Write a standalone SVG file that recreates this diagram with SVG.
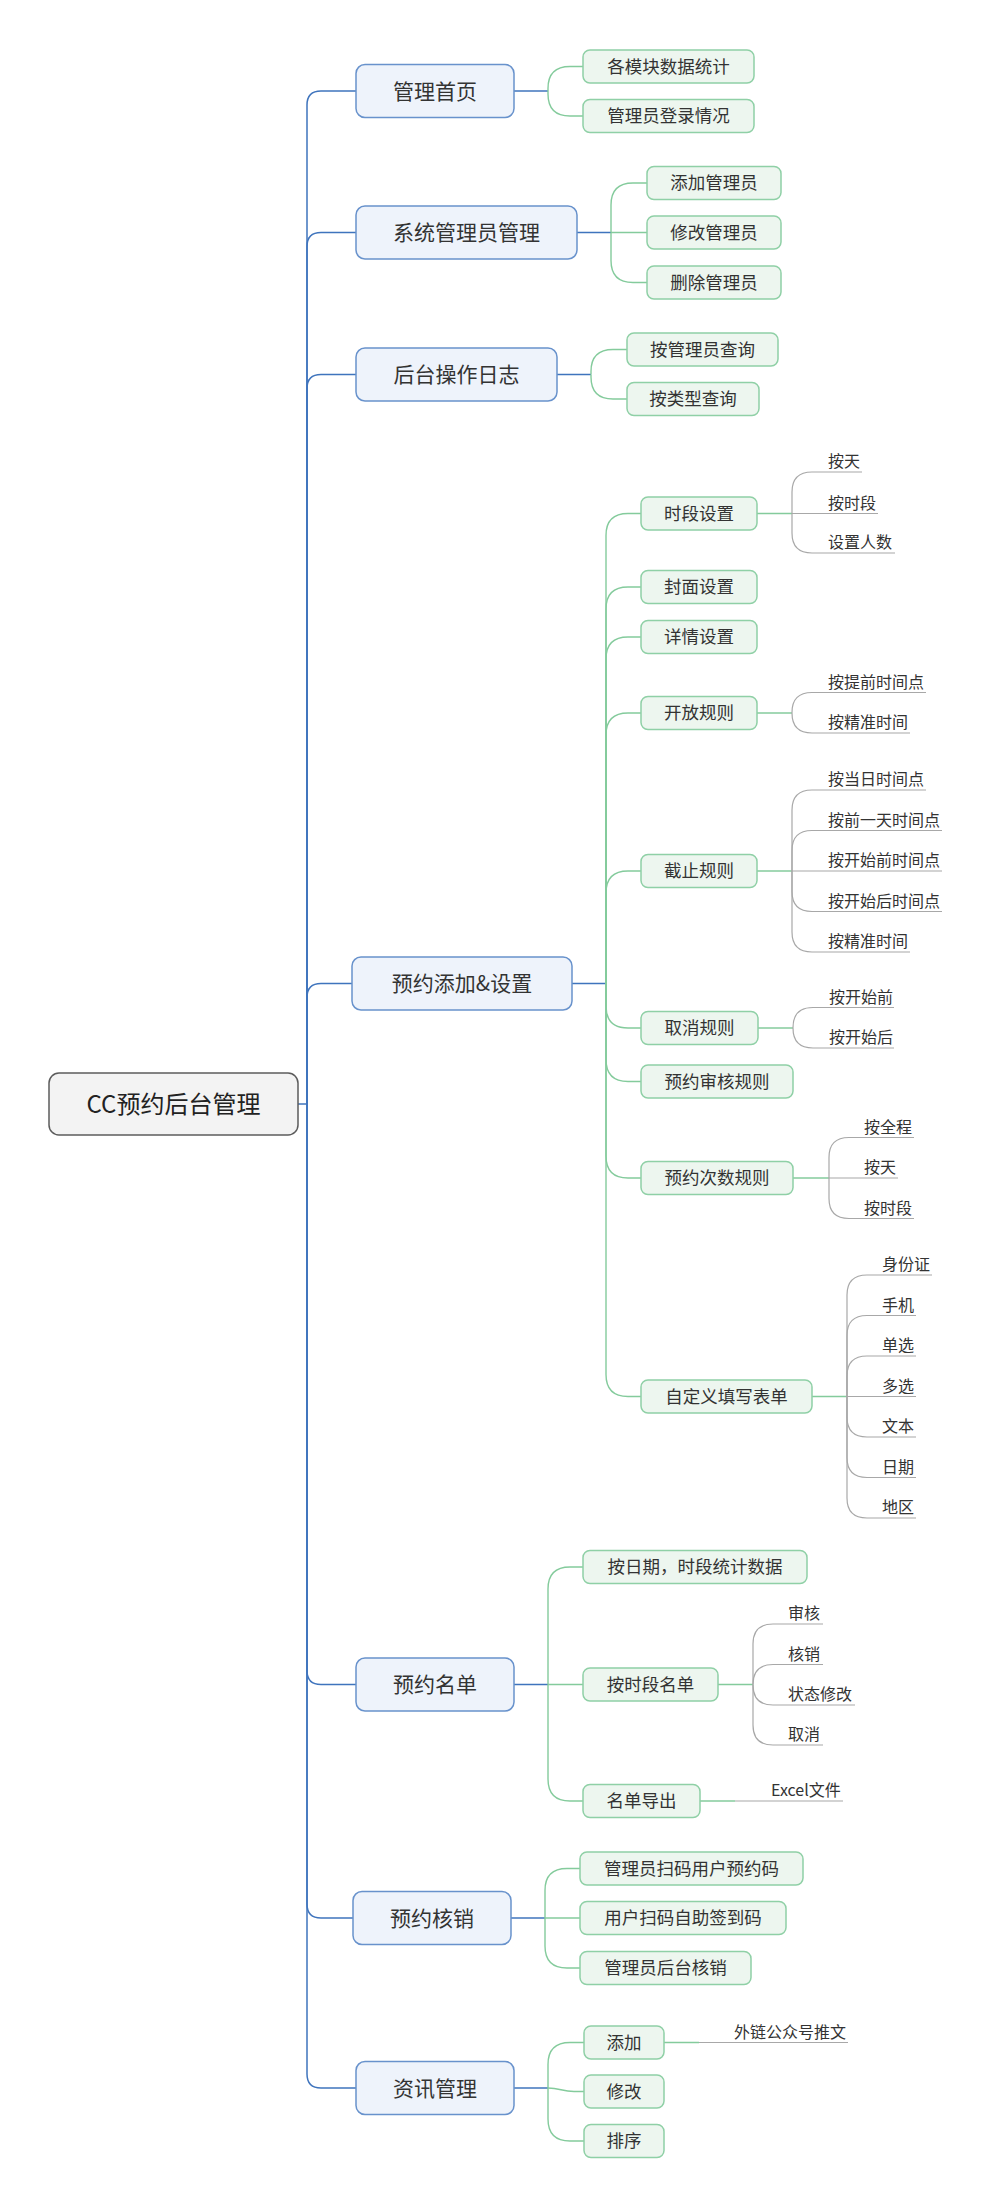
<svg xmlns="http://www.w3.org/2000/svg" width="993" height="2207" viewBox="0 0 993 2207">
<style>
text{font-family:"Noto Sans CJK SC","Noto Sans",sans-serif;fill:#333}
.root rect{fill:#f3f3f3;stroke:#5c5c5c;stroke-width:1.5}
.root text{font-size:24px;fill:#222;text-anchor:middle}
.l1 rect{fill:#eef3fb;stroke:#6892cc;stroke-width:1.5}
.l1 text{font-size:21px;text-anchor:middle}
.l2 rect{fill:#edf6ef;stroke:#8fd0a6;stroke-width:1.5}
.l2 text{font-size:17.5px;text-anchor:middle}
.lf text{font-size:16px}
.cb{fill:none;stroke:#3f74bd;stroke-width:1.5}
.cg{fill:none;stroke:#84cb9c;stroke-width:1.4}
.cy{fill:none;stroke:#a8a8a8;stroke-width:1.2}
</style>
<rect width="993" height="2207" fill="#fff"/>
<g id="connectors">
<g class="cb">
<path d="M298,1104 H307"/>
<path d="M307,1104 V105 Q307,91 321,91 H356"/>
<path d="M307,1104 V246.5 Q307,232.5 321,232.5 H356"/>
<path d="M307,1104 V388.5 Q307,374.5 321,374.5 H356"/>
<path d="M307,1104 V997.5 Q307,983.5 321,983.5 H352"/>
<path d="M307,1104 V1670.5 Q307,1684.5 321,1684.5 H356"/>
<path d="M307,1104 V1904 Q307,1918 321,1918 H353"/>
<path d="M307,1104 V2074 Q307,2088 321,2088 H356"/>
<path d="M514,91 H548"/>
<path d="M577,232.5 H611"/>
<path d="M557,374.5 H591"/>
<path d="M572,983.5 H606"/>
<path d="M514,1684.5 H548"/>
<path d="M511,1918 H545"/>
<path d="M514,2088 H548"/>
</g>
<g class="cg">
<path d="M548,91 V88.5 Q548,66.5 570,66.5 H583"/>
<path d="M548,91 V94 Q548,116 570,116 H583"/>
<path d="M611,232.5 V205 Q611,183 633,183 H647"/>
<path d="M611,232.5 H647"/>
<path d="M611,232.5 V260.5 Q611,282.5 633,282.5 H647"/>
<path d="M591,374.5 V371.5 Q591,349.5 613,349.5 H627"/>
<path d="M591,374.5 V377 Q591,399 613,399 H627"/>
<path d="M606,983.5 V535.5 Q606,513.5 628,513.5 H641"/>
<path d="M606,983.5 V609 Q606,587 628,587 H641"/>
<path d="M606,983.5 V659 Q606,637 628,637 H641"/>
<path d="M606,983.5 V735 Q606,713 628,713 H641"/>
<path d="M606,983.5 V893 Q606,871 628,871 H641"/>
<path d="M606,983.5 V1006 Q606,1028 628,1028 H641"/>
<path d="M606,983.5 V1059.5 Q606,1081.5 628,1081.5 H641"/>
<path d="M606,983.5 V1156 Q606,1178 628,1178 H641"/>
<path d="M606,983.5 V1374.5 Q606,1396.5 628,1396.5 H641"/>
<path d="M548,1684.5 V1589 Q548,1567 570,1567 H583"/>
<path d="M548,1684.5 H583"/>
<path d="M548,1684.5 V1779 Q548,1801 570,1801 H583"/>
<path d="M545,1918 V1890.5 Q545,1868.5 567,1868.5 H580"/>
<path d="M545,1918 H580"/>
<path d="M545,1918 V1946 Q545,1968 567,1968 H580"/>
<path d="M548,2088 V2064.5 Q548,2042.5 570,2042.5 H584"/>
<path d="M548,2088 C560,2088 562,2091.5 574,2091.5 H584"/>
<path d="M548,2088 V2119 Q548,2141 570,2141 H584"/>
<path d="M757,513.5 H792"/>
<path d="M757,713 H792"/>
<path d="M757,871 H792"/>
<path d="M758,1028 H793"/>
<path d="M793,1178 H829"/>
<path d="M812,1396.5 H847"/>
<path d="M718,1684.5 H753"/>
<path d="M700,1801 H735"/>
<path d="M664,2042.5 H699"/>
</g>
<g class="cy">
<path d="M792,513.5 V492 Q792,472 812,472 H862"/>
<path d="M792,513.5 H878"/>
<path d="M792,513.5 V533 Q792,553 812,553 H895"/>
<path d="M792,713 V712.5 Q792,692.5 812,692.5 H926"/>
<path d="M792,713 V713 Q792,733 812,733 H910"/>
<path d="M792,871 V810 Q792,790 812,790 H926"/>
<path d="M792,871 V850.5 Q792,830.5 812,830.5 H942"/>
<path d="M792,871 H942"/>
<path d="M792,871 V891.5 Q792,911.5 812,911.5 H942"/>
<path d="M792,871 V932 Q792,952 812,952 H910"/>
<path d="M793,1028 V1027.5 Q793,1007.5 813,1007.5 H894"/>
<path d="M793,1028 V1028 Q793,1048 813,1048 H894"/>
<path d="M829,1178 V1157.5 Q829,1137.5 849,1137.5 H914"/>
<path d="M829,1178 H898"/>
<path d="M829,1178 V1198.5 Q829,1218.5 849,1218.5 H914"/>
<path d="M847,1396.5 V1295 Q847,1275 867,1275 H932"/>
<path d="M847,1396.5 V1335.5 Q847,1315.5 867,1315.5 H916"/>
<path d="M847,1396.5 V1376 Q847,1356 867,1356 H916"/>
<path d="M847,1396.5 H916"/>
<path d="M847,1396.5 V1417 Q847,1437 867,1437 H916"/>
<path d="M847,1396.5 V1457.5 Q847,1477.5 867,1477.5 H916"/>
<path d="M847,1396.5 V1498 Q847,1518 867,1518 H916"/>
<path d="M753,1684.5 V1644 Q753,1624 773,1624 H823"/>
<path d="M753,1684.5 Q753,1664.5 773,1664.5 H823"/>
<path d="M753,1684.5 V1685 Q753,1705 773,1705 H855"/>
<path d="M753,1684.5 V1725 Q753,1745 773,1745 H823"/>
<path d="M735,1801 H843"/>
<path d="M699,2042.5 H848"/>
</g>
</g>
<g id="root" class="root"><rect x="49" y="1073" width="249" height="62" rx="10"/><text x="173.5" y="1112.5">CC预约后台管理</text></g>
<g id="n-home" class="l1"><rect x="356" y="64.5" width="158" height="53" rx="9"/><text x="435" y="98.5">管理首页</text></g>
<g id="n-sysadmin" class="l1"><rect x="356" y="206" width="221" height="53" rx="9"/><text x="466.5" y="240">系统管理员管理</text></g>
<g id="n-log" class="l1"><rect x="356" y="348" width="201" height="53" rx="9"/><text x="456.5" y="382">后台操作日志</text></g>
<g id="n-setup" class="l1"><rect x="352" y="957" width="220" height="53" rx="9"/><text x="462" y="991">预约添加&amp;设置</text></g>
<g id="n-list" class="l1"><rect x="356" y="1658" width="158" height="53" rx="9"/><text x="435" y="1692">预约名单</text></g>
<g id="n-verify" class="l1"><rect x="353" y="1891.5" width="158" height="53" rx="9"/><text x="432" y="1925.5">预约核销</text></g>
<g id="n-news" class="l1"><rect x="356" y="2061.5" width="158" height="53" rx="9"/><text x="435" y="2095.5">资讯管理</text></g>
<g id="n-stats" class="l2"><rect x="583" y="50" width="171" height="33" rx="7"/><text x="668.5" y="72.6">各模块数据统计</text></g>
<g id="n-login" class="l2"><rect x="583" y="99.5" width="171" height="33" rx="7"/><text x="668.5" y="122.1">管理员登录情况</text></g>
<g id="n-addadmin" class="l2"><rect x="647" y="166.5" width="134" height="33" rx="7"/><text x="714" y="189.1">添加管理员</text></g>
<g id="n-editadmin" class="l2"><rect x="647" y="216" width="134" height="33" rx="7"/><text x="714" y="238.6">修改管理员</text></g>
<g id="n-deladmin" class="l2"><rect x="647" y="266" width="134" height="33" rx="7"/><text x="714" y="288.6">删除管理员</text></g>
<g id="n-byadmin" class="l2"><rect x="627" y="333" width="151" height="33" rx="7"/><text x="702.5" y="355.6">按管理员查询</text></g>
<g id="n-bytype" class="l2"><rect x="627" y="382.5" width="132" height="33" rx="7"/><text x="693" y="405.1">按类型查询</text></g>
<g id="n-slot" class="l2"><rect x="641" y="497" width="116" height="33" rx="7"/><text x="699" y="519.6">时段设置</text></g>
<g id="n-cover" class="l2"><rect x="641" y="570.5" width="116" height="33" rx="7"/><text x="699" y="593.1">封面设置</text></g>
<g id="n-detail" class="l2"><rect x="641" y="620.5" width="116" height="33" rx="7"/><text x="699" y="643.1">详情设置</text></g>
<g id="n-open" class="l2"><rect x="641" y="696.5" width="116" height="33" rx="7"/><text x="699" y="719.1">开放规则</text></g>
<g id="n-close" class="l2"><rect x="641" y="854.5" width="116" height="33" rx="7"/><text x="699" y="877.1">截止规则</text></g>
<g id="n-cancel" class="l2"><rect x="641" y="1011.5" width="117" height="33" rx="7"/><text x="699.5" y="1034.1">取消规则</text></g>
<g id="n-audit" class="l2"><rect x="641" y="1065" width="152" height="33" rx="7"/><text x="717" y="1087.6">预约审核规则</text></g>
<g id="n-count" class="l2"><rect x="641" y="1161.5" width="152" height="33" rx="7"/><text x="717" y="1184.1">预约次数规则</text></g>
<g id="n-form" class="l2"><rect x="641" y="1380" width="171" height="33" rx="7"/><text x="726.5" y="1402.6">自定义填写表单</text></g>
<g id="n-bydate" class="l2"><rect x="583" y="1550.5" width="224" height="33" rx="7"/><text x="695" y="1573.1">按日期，时段统计数据</text></g>
<g id="n-byslot" class="l2"><rect x="583" y="1668" width="135" height="33" rx="7"/><text x="650.5" y="1690.6">按时段名单</text></g>
<g id="n-export" class="l2"><rect x="583" y="1784.5" width="117" height="33" rx="7"/><text x="641.5" y="1807.1">名单导出</text></g>
<g id="n-scan1" class="l2"><rect x="580" y="1852" width="223" height="33" rx="7"/><text x="691.5" y="1874.6">管理员扫码用户预约码</text></g>
<g id="n-scan2" class="l2"><rect x="580" y="1901.5" width="206" height="33" rx="7"/><text x="683" y="1924.1">用户扫码自助签到码</text></g>
<g id="n-backend" class="l2"><rect x="580" y="1951.5" width="171" height="33" rx="7"/><text x="665.5" y="1974.1">管理员后台核销</text></g>
<g id="n-newsadd" class="l2"><rect x="584" y="2026" width="80" height="33" rx="7"/><text x="624" y="2048.6">添加</text></g>
<g id="n-newsedit" class="l2"><rect x="584" y="2075" width="80" height="33" rx="7"/><text x="624" y="2097.6">修改</text></g>
<g id="n-newssort" class="l2"><rect x="584" y="2124.5" width="80" height="33" rx="7"/><text x="624" y="2147.1">排序</text></g>
<g id="leaves" class="lf">
<g id="lf-1"><text x="828" y="467">按天</text></g>
<g id="lf-2"><text x="828" y="508.5">按时段</text></g>
<g id="lf-3"><text x="828" y="548">设置人数</text></g>
<g id="lf-4"><text x="828" y="687.5">按提前时间点</text></g>
<g id="lf-5"><text x="828" y="728">按精准时间</text></g>
<g id="lf-6"><text x="828" y="785">按当日时间点</text></g>
<g id="lf-7"><text x="828" y="825.5">按前一天时间点</text></g>
<g id="lf-8"><text x="828" y="866">按开始前时间点</text></g>
<g id="lf-9"><text x="828" y="906.5">按开始后时间点</text></g>
<g id="lf-10"><text x="828" y="947">按精准时间</text></g>
<g id="lf-11"><text x="829" y="1002.5">按开始前</text></g>
<g id="lf-12"><text x="829" y="1043">按开始后</text></g>
<g id="lf-13"><text x="864" y="1132.5">按全程</text></g>
<g id="lf-14"><text x="864" y="1173">按天</text></g>
<g id="lf-15"><text x="864" y="1213.5">按时段</text></g>
<g id="lf-16"><text x="882" y="1270">身份证</text></g>
<g id="lf-17"><text x="882" y="1310.5">手机</text></g>
<g id="lf-18"><text x="882" y="1351">单选</text></g>
<g id="lf-19"><text x="882" y="1391.5">多选</text></g>
<g id="lf-20"><text x="882" y="1432">文本</text></g>
<g id="lf-21"><text x="882" y="1472.5">日期</text></g>
<g id="lf-22"><text x="882" y="1513">地区</text></g>
<g id="lf-23"><text x="788" y="1619">审核</text></g>
<g id="lf-24"><text x="788" y="1659.5">核销</text></g>
<g id="lf-25"><text x="788" y="1700">状态修改</text></g>
<g id="lf-26"><text x="788" y="1740">取消</text></g>
<g id="lf-27"><text x="771" y="1796">Excel文件</text></g>
<g id="lf-28"><text x="734" y="2037.5">外链公众号推文</text></g>
</g>
</svg>
